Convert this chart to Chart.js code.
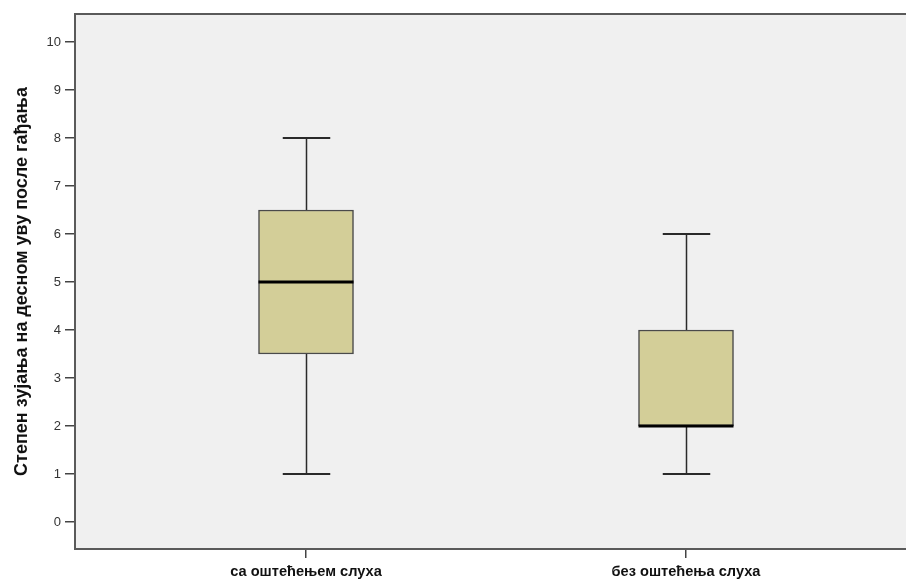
<!DOCTYPE html>
<html>
<head>
<meta charset="utf-8">
<script src="https://cdn.jsdelivr.net/npm/chart.js@4/dist/chart.umd.min.js"></script>
<style>
  html, body { margin: 0; padding: 0; background: #ffffff; }
  #wrap { width: 906px; height: 580px; }
</style>
</head>
<body>
<div id="wrap"><canvas id="c" width="906" height="580"></canvas></div>
<script>
// ---- data ----
const categories = ['са оштећењем слуха', 'без оштећења слуха'];
const minValues = [1, 1];
const q1Values = [3.5, 2];
const medianValues = [5, 2];
const q3Values = [6.5, 4];
const maxValues = [8, 6];
const yTickValues = [0, 1, 2, 3, 4, 5, 6, 7, 8, 9, 10];
const yTitle = 'Степен зујања на десном уву после гађања';

const BOX_WIDTH = 95;
const labelFont = "'Liberation Sans', Arial, sans-serif";

const boxData = categories.map((c, i) => ({ x: i + 1, y: [q1Values[i], q3Values[i]] }));

const boxPlugin = {
  id: 'boxPlugin',
  beforeDraw(chart) {
    const { ctx, chartArea: a } = chart;
    ctx.save();
    ctx.fillStyle = '#f0f0f0';
    ctx.fillRect(a.left, a.top, a.right - a.left, a.bottom - a.top);
    ctx.strokeStyle = '#5a5a5a';
    ctx.lineWidth = 2;
    ctx.beginPath();
    ctx.moveTo(a.left, a.top);
    ctx.lineTo(a.right, a.top);
    ctx.stroke();
    ctx.restore();
  },
  beforeDatasetsDraw(chart) {
    const { ctx, scales: { x, y } } = chart;
    ctx.save();
    ctx.strokeStyle = '#2a2a2a';
    categories.forEach((c, i) => {
      const px = Math.round(x.getPixelForValue(i + 1)) + 0.5;
      const half = BOX_WIDTH / 4;
      ctx.lineWidth = 1.5;
      ctx.beginPath();
      ctx.moveTo(px, y.getPixelForValue(minValues[i]));
      ctx.lineTo(px, y.getPixelForValue(q1Values[i]));
      ctx.moveTo(px, y.getPixelForValue(q3Values[i]));
      ctx.lineTo(px, y.getPixelForValue(maxValues[i]));
      ctx.stroke();
      ctx.lineWidth = 2;
      ctx.beginPath();
      ctx.moveTo(px - half, y.getPixelForValue(minValues[i]));
      ctx.lineTo(px + half, y.getPixelForValue(minValues[i]));
      ctx.moveTo(px - half, y.getPixelForValue(maxValues[i]));
      ctx.lineTo(px + half, y.getPixelForValue(maxValues[i]));
      ctx.stroke();
    });
    ctx.restore();
  },
  afterDatasetsDraw(chart) {
    const { ctx, scales: { x, y } } = chart;
    ctx.save();
    ctx.strokeStyle = '#000000';
    ctx.lineWidth = 3;
    categories.forEach((c, i) => {
      const px = x.getPixelForValue(i + 1);
      const py = y.getPixelForValue(medianValues[i]);
      ctx.beginPath();
      ctx.moveTo(px - BOX_WIDTH / 2, py);
      ctx.lineTo(px + BOX_WIDTH / 2, py);
      ctx.stroke();
    });
    ctx.restore();
  }
};

new Chart(document.getElementById('c'), {
  type: 'bar',
  data: {
    datasets: [{
      data: boxData,
      backgroundColor: '#d3ce98',
      borderColor: '#4a4a4a',
      borderWidth: 1.5,
      borderSkipped: false,
      barThickness: BOX_WIDTH,
      grouped: false
    }]
  },
  options: {
    responsive: false,
    animation: false,
    events: [],
    layout: { padding: { top: 14, left: 0, right: 0, bottom: 0 } },
    plugins: { legend: { display: false }, tooltip: { enabled: false } },
    scales: {
      x: {
        type: 'linear',
        offset: false,
        min: 1 - 231 / 380,
        max: 2 + 220 / 380,
        afterBuildTicks: s => { s.ticks = categories.map((c, i) => ({ value: i + 1 })); },
        afterFit: s => { s.height = 31; },
        ticks: {
          autoSkip: false,
          maxRotation: 0,
          padding: 5,
          color: '#111111',
          font: { family: labelFont, size: 14.6, weight: 'bold' },
          callback: v => categories[v - 1]
        },
        grid: { offset: false, drawOnChartArea: false, drawTicks: true, tickLength: 9, color: '#444444', lineWidth: 1.5 },
        border: { color: '#5a5a5a', width: 2 }
      },
      y: {
        min: -0.5625,
        max: 10.583,
        afterBuildTicks: s => { s.ticks = yTickValues.map(v => ({ value: v })); },
        afterFit: s => { s.width = 75; },
        ticks: {
          padding: 4,
          color: '#333333',
          font: { family: "'Liberation Sans', Arial, sans-serif", size: 13 }
        },
        grid: { drawOnChartArea: false, drawTicks: true, tickLength: 10, color: '#444444', lineWidth: 1.5 },
        border: { color: '#5a5a5a', width: 2 },
        title: {
          display: true,
          text: yTitle,
          color: '#111111',
          padding: { top: 11, bottom: 0 },
          font: { family: labelFont, size: 18, weight: 'bold' }
        }
      }
    }
  },
  plugins: [boxPlugin]
});
</script>
</body>
</html>
